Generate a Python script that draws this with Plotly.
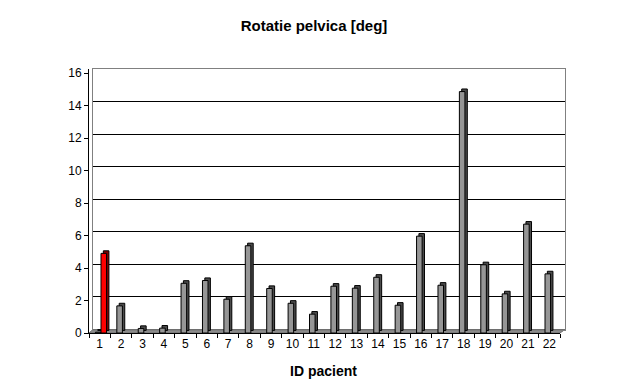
import plotly.graph_objects as go

patients = ["1", "2", "3", "4", "5", "6", "7", "8", "9", "10", "11",
            "12", "13", "14", "15", "16", "17", "18", "19", "20", "21", "22"]
rotatie = [0.05, 1.67, 0.28, 0.3, 3.06, 3.23, 2.08, 5.37, 2.74, 1.83, 1.16,
           2.88, 2.76, 3.43, 1.71, 5.96, 2.94, 14.86, 4.2, 2.41, 6.7, 3.64]
red_patients = ["1"]
red_values = [4.9]

y_ticks = [0, 2, 4, 6, 8, 10, 12, 14, 16]
grid_vals = [2, 4, 6, 8, 10, 12, 14]

W, H = 628, 386
ml, mr, mt, mb = 89, 63, 66, 53
pw = W - ml - mr          # 476
ph = H - mt - mb          # 267

def px_x(p):
    return (p - ml) / pw

def px_y(p):
    return (H - mb - p) / ph

FONT = "Arial, Liberation Sans, sans-serif"
depth_dx = 0.11
depth_dy = 0.16
bw = 0.26

fig = go.Figure()

# invisible trace for back wall subplot
fig.add_trace(go.Scatter(x=[None], y=[None], xaxis="x", yaxis="y",
                         showlegend=False, hoverinfo="skip"))

def add_3d(x, y, off, face, side):
    fig.add_trace(go.Bar(x=x, y=y, base=[depth_dy] * len(y), offset=off + depth_dx,
                         width=bw, marker=dict(color=side, line=dict(color="black", width=1)),
                         xaxis="x2", yaxis="y2", showlegend=False, hoverinfo="skip"))
    fig.add_trace(go.Bar(x=x, y=y, offset=off, width=bw,
                         marker=dict(color=face, line=dict(color="black", width=1)),
                         xaxis="x2", yaxis="y2", showlegend=False))

add_3d(patients, rotatie, -0.2, "#969696", "#4b4b4b")
add_3d(red_patients, red_values, 0.06, "#ff0000", "#800000")

fig.update_layout(
    width=W, height=H,
    margin=dict(l=ml, r=mr, t=mt, b=mb, pad=0),
    paper_bgcolor="white", plot_bgcolor="rgba(0,0,0,0)",
    barmode="overlay",
    showlegend=False,
    font=dict(family=FONT, size=12, color="black"),
    title=dict(text="<b>Rotatie pelvica [deg]</b>", x=0.5, xref="container",
               xanchor="center", y=1 - 26 / H, yref="container", yanchor="middle",
               font=dict(family=FONT, size=15, color="black")),
    # back wall
    xaxis=dict(domain=[px_x(93), 1.0], range=[0, 1], showgrid=False, zeroline=False,
               showticklabels=False, ticks="", showline=True, mirror=True,
               linecolor="#808080", linewidth=1, fixedrange=True, anchor="y"),
    yaxis=dict(domain=[px_y(329.5), px_y(69.3)], range=[0, 16], tickvals=grid_vals,
               showgrid=True, gridcolor="black", gridwidth=1, zeroline=False,
               showticklabels=False, ticks="", showline=True, mirror=True,
               linecolor="#808080", linewidth=1, anchor="x"),
    # front (bars)
    xaxis2=dict(domain=[0, px_x(560)], type="category", categoryorder="array",
                categoryarray=patients, tickson="boundaries", ticks="outside",
                ticklen=4, tickcolor="black", showline=True, linecolor="black",
                linewidth=1, showgrid=False, zeroline=False, anchor="y2",
                tickangle=0,
                tickfont=dict(family=FONT, size=12, color="black"),
                range=[-0.5, len(patients) - 0.5]),
    yaxis2=dict(domain=[0, px_y(69)], range=[0, 16.25], tickvals=y_ticks,
                ticks="outside", ticklen=4, tickcolor="black", showline=True,
                linecolor="black", linewidth=1, showgrid=False, zeroline=False,
                anchor="x2", tickfont=dict(family=FONT, size=12, color="black")),
    shapes=[dict(type="path", xref="paper", yref="paper", layer="below",
                 path=f"M {px_x(93)},{px_y(329.5)} L 1,{px_y(329.5)} L {px_x(560)},0 L 0,0 Z",
                 fillcolor="#8c8c8c", line=dict(color="#6e6e6e", width=1))],
    annotations=[dict(text="<b>ID pacient</b>", xref="paper", yref="paper",
                      x=px_x(323), y=px_y(371), xanchor="center", yanchor="middle",
                      showarrow=False, font=dict(family=FONT, size=14, color="black"))],
)

fig.write_html("out.html", config={"displayModeBar": False},
               post_script="document.body.style.margin='0px';")
